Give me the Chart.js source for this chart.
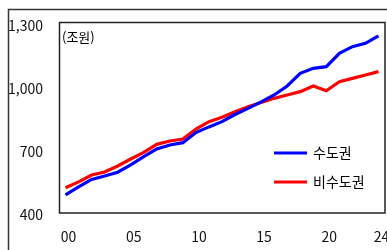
<!DOCTYPE html>
<html lang="ko">
<head>
<meta charset="utf-8">
<script src="https://cdn.jsdelivr.net/npm/chart.js@4/dist/chart.umd.min.js"></script>
<style>
  html, body { margin: 0; padding: 0; background: #fff; }
  canvas { display: block; }
</style>
</head>
<body>
<canvas id="chart" width="387" height="250"></canvas>
<script>
// 연도 (00 ~ 24)
const years = ['00','01','02','03','04','05','06','07','08','09','10','11','12',
               '13','14','15','16','17','18','19','20','21','22','23','24'];
// 수도권 / 비수도권 (조원)
const metroValues = [486, 524, 560, 576, 594, 629, 668, 705, 724, 735, 783, 810, 835,
                     869, 898, 929, 962, 1005, 1065, 1089, 1097, 1160, 1192, 1208, 1243];
const nonMetroValues = [520, 548, 581, 595, 624, 657, 689, 727, 743, 752, 800, 835, 856,
                        882, 906, 926, 946, 962, 978, 1005, 982, 1025, 1041, 1057, 1073];
const xTickLabels = ['00', '05', '10', '15', '20', '24'];
const yTicks = [400, 700, 1000, 1300];
const seriesNames = ['수도권', '비수도권'];
const unitLabel = '(조원)';

const FONT = '"Noto Sans CJK KR", "Noto Sans", sans-serif';

// cadre extérieur, boîte du graphique, unité et légende
const decorPlugin = {
    id: 'decor',
    afterDraw(chart) {
        const ctx = chart.ctx;
        const a = chart.chartArea;
        ctx.save();
        // cadre extérieur
        ctx.strokeStyle = '#333';
        ctx.lineWidth = 1.5;
        ctx.beginPath();
        ctx.moveTo(8.5, 250);
        ctx.lineTo(8.5, 9.5);
        ctx.lineTo(387, 9.5);
        ctx.stroke();
        // boîte
        ctx.strokeStyle = '#222';
        ctx.lineWidth = 1.5;
        ctx.strokeRect(59.5, 22.5, a.right - 59.5, a.bottom - 22.5);
        // unité
        ctx.fillStyle = '#000';
        ctx.font = '13px ' + FONT;
        ctx.textBaseline = 'middle';
        ctx.textAlign = 'left';
        ctx.fillText(unitLabel, 62, 37);
        // légende
        chart.data.datasets.forEach((ds, i) => {
            const y = 153 + i * 29;
            ctx.strokeStyle = ds.borderColor;
            ctx.lineWidth = 3;
            ctx.beginPath();
            ctx.moveTo(274, y);
            ctx.lineTo(307, y);
            ctx.stroke();
            ctx.fillStyle = '#000';
            ctx.font = '14px ' + FONT;
            ctx.fillText(ds.label, 313, y);
        });
        ctx.restore();
    }
};

new Chart(document.getElementById('chart').getContext('2d'), {
    type: 'line',
    data: {
        labels: years,
        datasets: [
            { label: seriesNames[0], data: metroValues, borderColor: '#0000FF', borderWidth: 3.2, pointRadius: 0, tension: 0 },
            { label: seriesNames[1], data: nonMetroValues, borderColor: '#FF0000', borderWidth: 3.2, pointRadius: 0, tension: 0 }
        ]
    },
    options: {
        responsive: false,
        animation: false,
        devicePixelRatio: 1,
        layout: { padding: { top: 24, right: 2, left: 0, bottom: 0 } },
        plugins: {
            legend: { display: false },
            tooltip: { enabled: false }
        },
        scales: {
            x: {
                type: 'category',
                offset: true,
                grid: { display: false, drawTicks: false },
                border: { display: false },
                ticks: {
                    autoSkip: false,
                    maxRotation: 0,
                    padding: 15,
                    labelOffset: 3,
                    color: '#111',
                    font: { family: FONT, size: 14 },
                    callback: (v, i) => xTickLabels.includes(years[i]) ? years[i] : ''
                },
                afterFit(scale) {
                    scale.height = 37;
                    scale.paddingLeft = 0;
                    scale.paddingRight = 0;
                }
            },
            y: {
                min: 400,
                max: 1300,
                grid: { display: false, drawTicks: false },
                border: { display: false },
                afterBuildTicks(scale) {
                    scale.ticks = yTicks.map(v => ({ value: v }));
                },
                ticks: {
                    padding: 16,
                    labelOffset: 2,
                    color: '#111',
                    font: { family: FONT, size: 14 },
                    callback: v => v.toLocaleString('en-US')
                },
                afterFit(scale) {
                    scale.width = 59;
                    scale.paddingTop = 0;
                    scale.paddingBottom = 0;
                }
            }
        }
    },
    plugins: [decorPlugin]
});
</script>
</body>
</html>
